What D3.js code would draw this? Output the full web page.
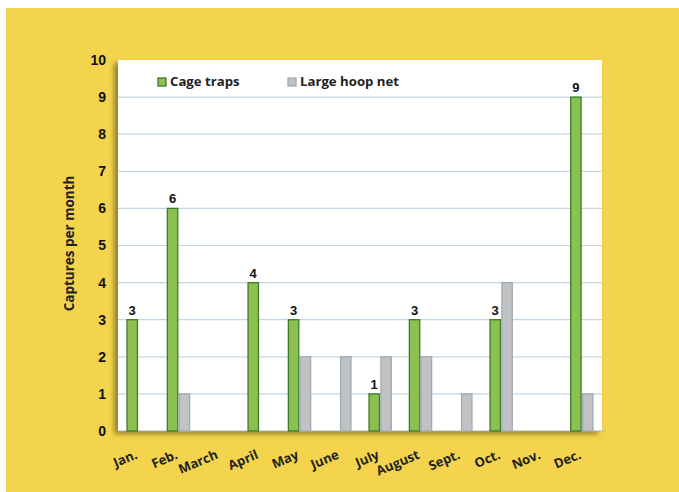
<!DOCTYPE html>
<html lang="en">
<head>
<meta charset="utf-8">
<title>Captures per month</title>
<style>
  body { margin: 0; background: #fff; }
  svg { display: block; }
</style>
</head>
<body>
<div id="chart"></div>
<script src="https://cdn.jsdelivr.net/npm/d3@7"></script>
<script>
// data
const months = ["Jan.", "Feb.", "March", "April", "May", "June", "July", "August", "Sept.", "Oct.", "Nov.", "Dec."];
const cageTraps = [3, 6, 0, 4, 3, 0, 1, 3, 0, 3, 0, 9];
const hoopNet = [0, 1, 0, 0, 2, 2, 2, 2, 1, 4, 0, 1];
const seriesNames = ["Cage traps", "Large hoop net"];
const yTicks = [0, 1, 2, 3, 4, 5, 6, 7, 8, 9, 10];

const W = 679, H = 492;
const margin = { top: 60, right: 77, bottom: 61, left: 118 };
const width = W - margin.left - margin.right,
  height = H - margin.top - margin.bottom;

const colors = { fill: ["#8cc152", "#c0c2c4"], stroke: ["#3e7a2b", "#9eabb5"] };

const svg = d3.select("#chart").append("svg")
  .attr("width", W).attr("height", H);

// yellow panel
svg.append("rect")
  .attr("x", 6).attr("y", 8).attr("width", W - 6).attr("height", H - 8)
  .attr("fill", "#f4d44c");

const defs = svg.append("defs");
const f = defs.append("filter").attr("id", "shadow")
  .attr("x", "-10%").attr("y", "-10%").attr("width", "120%").attr("height", "120%");
f.append("feDropShadow")
  .attr("dx", -4).attr("dy", 3).attr("stdDeviation", 2.5)
  .attr("flood-color", "#5a4a10").attr("flood-opacity", 0.6);

const g = svg.append("g")
  .attr("transform", "translate(" + margin.left + "," + margin.top + ")");

// white plot area
g.append("rect")
  .attr("width", width).attr("height", height)
  .attr("fill", "#ffffff")
  .attr("filter", "url(#shadow)");

const x = d3.scaleBand().domain(months).range([0, width]).paddingInner(0).paddingOuter(0);
const xs = d3.scaleBand().domain([0, 1]).range([x.bandwidth() * 0.2, x.bandwidth() * 0.8]).padding(0.04);
const y = d3.scaleLinear().domain([0, 10]).range([height, 0]);

// grid lines
g.append("g").selectAll("line")
  .data(yTicks.filter(d => d > 0 && d < 10))
  .join("line")
  .attr("x1", 0).attr("x2", width)
  .attr("y1", d => y(d)).attr("y2", d => y(d))
  .attr("stroke", "#c2d6e3").attr("stroke-width", 1.2);

// y axis labels
const yAxis = g.append("g")
  .call(d3.axisLeft(y).tickValues(yTicks).tickSize(0).tickPadding(12));
yAxis.select(".domain").remove();
yAxis.selectAll("text")
  .attr("font-family", "Liberation Sans, Arial, sans-serif")
  .attr("font-weight", "bold").attr("font-size", 14).attr("fill", "#111");

// bottom axis line
g.append("line")
  .attr("x1", 0).attr("x2", width + 4)
  .attr("y1", height).attr("y2", height)
  .attr("stroke", "#a9b4bc").attr("stroke-width", 1);

// x axis labels
const xAxis = g.append("g")
  .attr("transform", "translate(0," + height + ")")
  .call(d3.axisBottom(x).tickSize(0).tickPadding(0));
xAxis.select(".domain").remove();
xAxis.selectAll("text")
  .attr("font-family", "Open Sans, sans-serif")
  .attr("font-weight", "bold").attr("font-size", 13).attr("fill", "#222")
  .attr("text-anchor", "end")
  .attr("dy", 0)
  .attr("transform", "translate(0,27) rotate(-23)");

// bars
const rows = months.map((m, i) => ({ month: m, vals: [cageTraps[i], hoopNet[i]] }));
const groups = g.append("g").selectAll("g")
  .data(rows).join("g")
  .attr("transform", d => "translate(" + x(d.month) + ",0)");

groups.selectAll("rect")
  .data(d => d.vals.map((v, k) => ({ v: v, k: k })).filter(e => e.v > 0))
  .join("rect")
  .attr("x", d => xs(d.k) + 0.5)
  .attr("width", xs.bandwidth() - 1)
  .attr("y", d => y(d.v))
  .attr("height", d => height - y(d.v))
  .attr("fill", d => colors.fill[d.k])
  .attr("stroke", d => colors.stroke[d.k])
  .attr("stroke-width", 1.3);

// value labels on cage trap bars
groups.filter(d => d.vals[0] > 0)
  .append("text")
  .attr("x", xs(0) + xs.bandwidth() / 2)
  .attr("y", d => y(d.vals[0]) - 5)
  .attr("text-anchor", "middle")
  .attr("font-family", "Liberation Sans, Arial, sans-serif")
  .attr("font-weight", "bold").attr("font-size", 13).attr("fill", "#111")
  .text(d => d.vals[0]);

// legend
const legend = g.append("g").attr("transform", "translate(40,26)");
const legX = [0, 130];
seriesNames.forEach((name, k) => {
  legend.append("rect")
    .attr("x", legX[k]).attr("y", -8).attr("width", 8).attr("height", 8)
    .attr("fill", colors.fill[k]).attr("stroke", colors.stroke[k]).attr("stroke-width", 1.3);
  legend.append("text")
    .attr("x", legX[k] + 12).attr("y", 0)
    .attr("font-family", "Open Sans, sans-serif")
    .attr("font-weight", "bold").attr("font-size", 13.2).attr("fill", "#222")
    .text(name);
});

// y axis title
svg.append("text")
  .attr("transform", "translate(74," + (margin.top + height / 2 - 2) + ") rotate(-90)")
  .attr("text-anchor", "middle")
  .attr("font-family", "Open Sans, sans-serif")
  .attr("font-weight", "bold").attr("font-size", 13.5).attr("fill", "#222")
  .text("Captures per month");
</script>
</body>
</html>
